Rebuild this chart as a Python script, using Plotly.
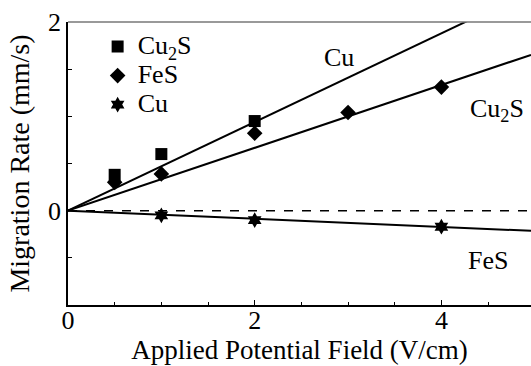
import plotly.graph_objects as go

# Data
cu2s_x = [0.5, 1, 2]
cu2s_y = [0.38, 0.60, 0.95]
fes_x = [0.5, 1, 2, 3, 4]
fes_y = [0.30, 0.39, 0.82, 1.04, 1.31]
cu_x = [1, 2, 4]
cu_y = [-0.05, -0.10, -0.17]

# legend names
series_names = ["Cu<sub>2</sub>S", "FeS", "Cu"]

# fitted lines (slopes) and their labels
line_slopes = [0.47, 0.333, -0.043]
line_labels = ["Cu", "Cu<sub>2</sub>S", "FeS"]
label_x = [2.9, 4.6, 4.5]
label_y = [1.62, 1.07, -0.53]

x_max = 4.96
font_family = "Liberation Serif, Times New Roman, serif"


def big(t):
    return "<span style='font-size:26px'>" + t + "</span>"


fig = go.Figure()

# zero dashed line
fig.add_trace(go.Scatter(x=[0, x_max], y=[0, 0], mode="lines",
                         line=dict(color="black", width=1.5, dash="dash"),
                         showlegend=False, hoverinfo="skip"))

for s in line_slopes:
    fig.add_trace(go.Scatter(x=[0, x_max], y=[0, s * x_max], mode="lines",
                             line=dict(color="black", width=2),
                             showlegend=False, hoverinfo="skip"))

fig.add_trace(go.Scatter(x=cu2s_x, y=cu2s_y, mode="markers", name=big(series_names[0]),
                         marker=dict(symbol="square", size=12, color="black")))
fig.add_trace(go.Scatter(x=fes_x, y=fes_y, mode="markers", name=big(series_names[1]),
                         marker=dict(symbol="diamond", size=12, color="black")))
fig.add_trace(go.Scatter(x=cu_x, y=cu_y, mode="markers", name=big(series_names[2]),
                         marker=dict(symbol="hexagram", size=12, color="black")))

for t, lx, ly in zip(line_labels, label_x, label_y):
    fig.add_annotation(x=lx, y=ly, text=t, showarrow=False,
                       font=dict(family=font_family, size=26, color="black"))

fig.add_shape(type="line", xref="paper", yref="paper", x0=0, x1=1, y0=1, y1=1,
              line=dict(color="#777777", width=1.5))

fig.update_layout(
    width=531, height=366,
    margin=dict(l=68, r=0, t=22, b=61),
    plot_bgcolor="white", paper_bgcolor="white",
    font=dict(family=font_family, size=26, color="black"),
    showlegend=True,
    legend=dict(x=0.064, y=0.982, xanchor="left", yanchor="top",
                bgcolor="rgba(0,0,0,0)", itemwidth=30,
                font=dict(family=font_family, size=20, color="black")),
    xaxis=dict(range=[0, x_max], tickvals=[0, 2, 4], ticks="inside", ticklen=5,
               tickcolor="black", showline=True, linecolor="black", linewidth=1.5,
               showgrid=False, zeroline=False, automargin=False,
               ticklabelstandoff=-9,
               minor=dict(dtick=0.5, ticks="inside", ticklen=3, tickcolor="black"),
               title=dict(text="Applied Potential Field (V/cm)", standoff=0,
                          font=dict(size=27)),
               tickfont=dict(size=26)),
    yaxis=dict(range=[-1, 2], tickvals=[0, 2], ticks="inside", ticklen=4,
               tickcolor="black", showline=True, linecolor="black", linewidth=1.5,
               showgrid=False, zeroline=False, automargin=False,
               minor=dict(dtick=0.5, ticks="inside", ticklen=4, tickcolor="black"),
               title=dict(text="Migration Rate (mm/s)", standoff=10,
                          font=dict(size=28)),
               tickfont=dict(size=26)),
)

fig.write_html("out.html", config={"displayModeBar": False},
               post_script="document.body.style.margin='0';"
                           "document.body.style.overflow='hidden';")
